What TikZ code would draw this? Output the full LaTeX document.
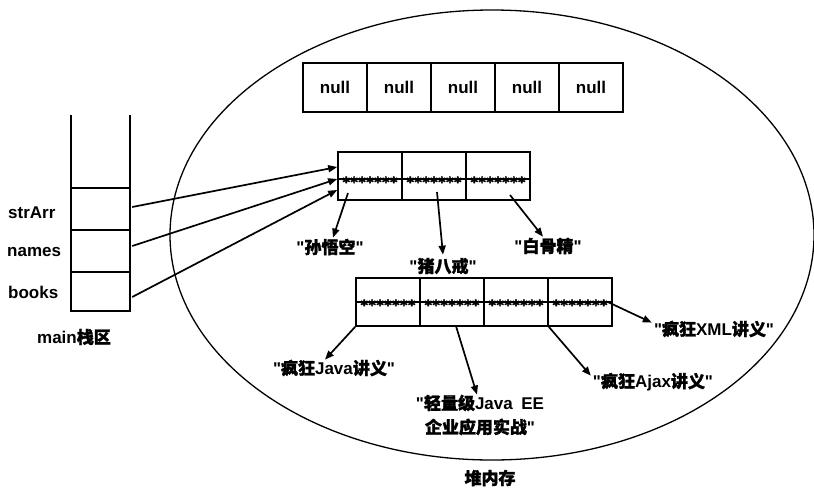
\documentclass[tikz,border=0pt]{standalone}
\usepackage{fontspec}
\setmainfont{Liberation Sans}[Ligatures=TeXOff]
\newfontfamily\cjk{Noto Sans CJK SC}[FakeBold=1.6]
\newfontfamily\starfont{DejaVu Sans}[FakeBold=3]
\usetikzlibrary{arrows.meta,calc}
\newcommand\zstars{*\kern0.6pt*\kern0.6pt*\kern0.6pt*\kern0.6pt*\kern0.6pt*\kern0.6pt*}
\begin{document}
\begin{tikzpicture}[x=1pt,y=-1pt,
  every node/.style={font=\fontsize{17}{24}\selectfont\bfseries, inner sep=0pt},
  cell/.style={draw, line width=1.6pt, minimum width=64pt, minimum height=49pt},
  starrow/.style={font=\starfont\fontsize{14}{14}\selectfont\bfseries, anchor=base},
  stackline/.style={line width=2.4pt},
  arr/.style={line width=1.7pt, -{Triangle[length=9pt,width=7pt]}},
  heap/.style={line width=1.3pt}]
\useasboundingbox (0,0) rectangle (814,491);

% heap ellipse
\draw[heap] (492,235) ellipse [x radius=322, y radius=225];
\node (heapLabel) at (490,478) {\cjk 堆内存};

% stack
\draw[stackline] (71,115) -- (71,311) -- (130,311) -- (130,115);
\draw[stackline] (71,188) -- (130,188);
\draw[stackline] (71,230) -- (130,230);
\draw[stackline] (71,272) -- (130,272);
\node[minimum width=59pt, minimum height=42pt] (sStr) at (100.5,209) {};
\node[minimum width=59pt, minimum height=42pt] (sNam) at (100.5,251) {};
\node[minimum width=59pt, minimum height=39pt] (sBoo) at (100.5,291.5) {};
\node[anchor=west] (tStr) at (8,213) {strArr};
\node[anchor=west] (tNam) at (7,252) {names};
\node[anchor=west] (tBoo) at (8,292) {books};
\node (tMain) at (74,337) {main{\cjk 栈区}};

% null array
\foreach \i/\x in {1/335,2/399,3/463,4/527,5/591}
  \node[cell] (z\i) at (\x,87.5) {null};

% names array
\foreach \i/\x in {1/370,2/434,3/498}
  \node[cell, minimum height=48pt] (n\i) at (\x,176) {};
\draw[line width=1.2pt] (n1.west |- 0,179) -- (n3.east |- 0,179);
\foreach \i in {1,2,3}
  \node[starrow] (ns\i) at ($(n\i.center)+(0,11)$) {\zstars};

% books array
\foreach \i/\x in {1/388,2/452,3/516,4/580}
  \node[cell, minimum height=48pt] (b\i) at (\x,302) {};
\draw[line width=1.2pt] (b1.west) -- (b4.east);
\foreach \i in {1,2,3,4}
  \node[starrow] (bs\i) at ($(b\i.center)+(0,8)$) {\zstars};

% stack references
\draw[arr] ($(sStr.east)+(2,-2)$) -- ($(n1.west)+(0,-9)$);
\draw[arr] ($(sNam.east)+(2,-5)$) -- ($(n1.west)+(0,3)$);
\draw[arr] ($(sBoo.east)+(2,5.5)$) -- ($(n1.west)+(0,14)$);

% names strings
\node (l1) at (330,247) {"{\cjk 孙悟空}"};
\node (l2) at (443,266) {"{\cjk 猪八戒}"};
\node (l3) at (548,246) {"{\cjk 白骨精}"};
\draw[arr] ($(n1.center)+(-22,17)$) -- ($(l1.north)+(3,-1)$);
\draw[arr] ($(n2.center)+(3,16)$) -- ($(l2.north)+(0,-3)$);
\draw[arr] ($(n3.center)+(12,19)$) -- ($(l3.north)+(-5,-1)$);

% books strings
\node (l4) at (334,368) {"{\cjk 疯狂}Java{\cjk 讲义}"};
\node[align=center] (l5) at (480,415) {"{\cjk 轻量级}Java\enspace EE\\{\cjk 企业应用实战}"};
\node (l6) at (653,382) {"{\cjk 疯狂}Ajax{\cjk 讲义}"};
\node (l7) at (714,329) {"{\cjk 疯狂}XML{\cjk 讲义}"};
\draw[arr] (b1.south west) -- ($(l4.north)+(-9,0)$);
\draw[arr] ($(b2.south west)+(37,0)$) -- ($(l5.north)+(-3,0)$);
\draw[arr] (b3.south east) -- ($(l6.north west)+(-2,3)$);
\draw[arr] ($(b4.east)+(-5,0)$) -- ($(l7.north west)+(-2,2)$);
\end{tikzpicture}
\end{document}
